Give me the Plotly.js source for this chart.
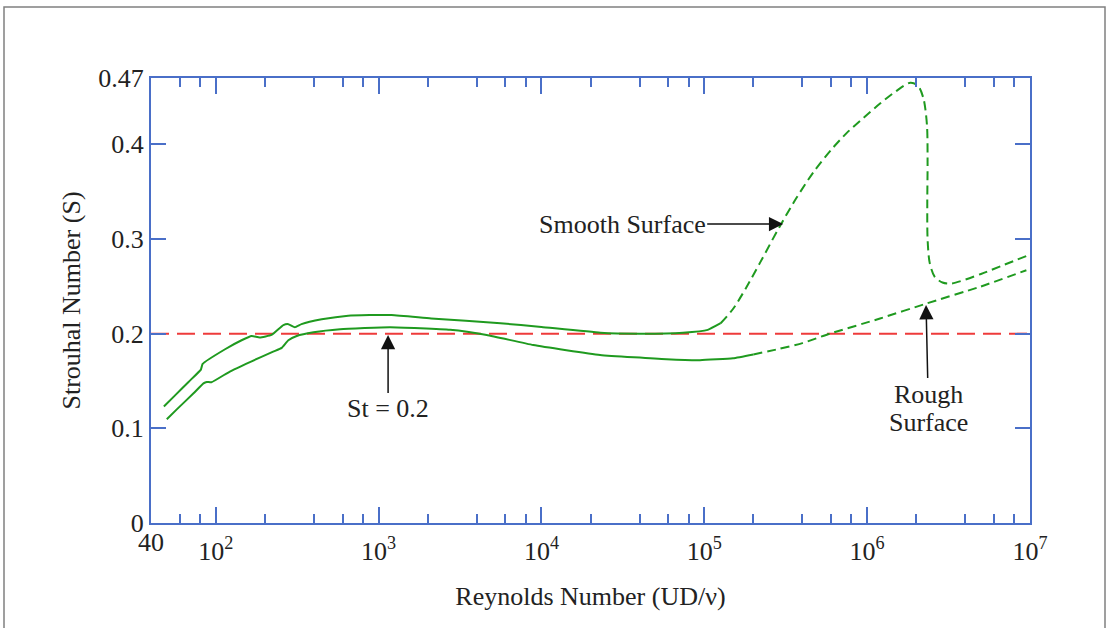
<!DOCTYPE html>
<html>
<head>
<meta charset="utf-8">
<script src="https://cdn.plot.ly/plotly-3.0.1.min.js"></script>
<style>
html,body{margin:0;padding:0;background:#fff;}
#chart{width:1109px;height:628px;}
</style>
</head>
<body>
<div id="chart"></div>
<script>
// Upper curve (solid part, low Re)
const reUpperSolid = [48, 56, 68, 81, 83, 114, 144, 166, 186, 220, 260, 279, 306, 336, 447, 650, 1200, 2100, 5600, 10000, 23000, 40000, 74000, 1.05e5, 1.26e5];
const sUpperSolid  = [0.123, 0.1345, 0.149, 0.162, 0.168, 0.1835, 0.193, 0.1975, 0.196, 0.1986, 0.209, 0.21, 0.2067, 0.21, 0.2151, 0.219, 0.2197, 0.216, 0.211, 0.207, 0.201, 0.2, 0.201, 0.204, 0.211];
// Smooth surface (dashed)
const reSmooth = [1.26e5, 1.5e5, 1.8e5, 2.2e5, 2.9e5, 3.7e5, 4.7e5, 6e5, 7.5e5, 9.5e5, 1.2e6, 1.5e6, 1.84e6, 2.05e6, 2.22e6, 2.33e6, 2.35e6, 2.34e6, 2.35e6, 2.42e6, 2.6e6, 2.9e6, 3.3e6, 5e6, 7e6, 9.5e6];
const sSmooth  = [0.211, 0.226, 0.248, 0.275, 0.313, 0.344, 0.371, 0.394, 0.412, 0.428, 0.443, 0.456, 0.465, 0.462, 0.448, 0.42, 0.38, 0.34, 0.30, 0.275, 0.26, 0.254, 0.253, 0.263, 0.273, 0.282];
// Lower curve (solid part)
const reLowerSolid = [50, 58, 73, 84, 88, 94, 122, 162, 225, 254, 279, 314, 398, 580, 1175, 2750, 4610, 8900, 22900, 58600, 94000, 1.5e5, 2e5];
const sLowerSolid  = [0.1095, 0.1205, 0.137, 0.1475, 0.149, 0.1486, 0.16, 0.17, 0.181, 0.185, 0.193, 0.1975, 0.2014, 0.2046, 0.2067, 0.204, 0.1986, 0.188, 0.1775, 0.173, 0.172, 0.174, 0.178];
// Rough surface (dashed)
const reRough = [2e5, 2.9e5, 4e5, 5.9e5, 1.2e6, 2.33e6, 4.95e6, 9.5e6];
const sRough  = [0.178, 0.184, 0.19, 0.2, 0.216, 0.232, 0.2496, 0.267];
// Reference line St = 0.2
const reRef = [40, 1e7];
const sRef = [0.2, 0.2];

const xTickVals = [100, 1e3, 1e4, 1e5, 1e6, 1e7];
const xTickText = ['10<sup>2</sup>', '10<sup>3</sup>', '10<sup>4</sup>', '10<sup>5</sup>', '10<sup>6</sup>', '10<sup>7</sup>'];
const xStartLabel = '40';
const xStart = 40;
const xMinorVals = [60, 80, 200, 400, 600, 800, 2e3, 4e3, 6e3, 8e3, 2e4, 4e4, 6e4, 8e4, 2e5, 4e5, 6e5, 8e5, 2e6, 4e6, 6e6, 8e6];
const yTickVals = [0, 0.1, 0.2, 0.3, 0.4, 0.47];
const yTickText = ['0', '0.1', '0.2', '0.3', '0.4', '0.47'];

const green = '#1f9a1f';
const red = '#ee3b3b';
const axisBlue = '#4a6fc8';
const serif = 'Liberation Serif, Times New Roman, serif';
const FS = 26;

const traces = [
  {x: reRef, y: sRef, mode: 'lines', line: {color: red, width: 2, dash: '18px,8px'}, hoverinfo: 'skip'},
  {x: reUpperSolid, y: sUpperSolid, mode: 'lines', line: {color: green, width: 2, shape: 'spline', smoothing: 0.4}},
  {x: reSmooth, y: sSmooth, mode: 'lines', line: {color: green, width: 2, dash: '9px,5px', shape: 'spline', smoothing: 0.8}},
  {x: reLowerSolid, y: sLowerSolid, mode: 'lines', line: {color: green, width: 2, shape: 'spline', smoothing: 0.4}},
  {x: reRough, y: sRough, mode: 'lines', line: {color: green, width: 2, dash: '9px,5px', shape: 'spline', smoothing: 0.6}}
];

const L = 151, T = 78, W = 879, H = 445;
function px2paperX(p){ return (p - L) / W; }
function py2paperY(p){ return (T + H - p) / H; }

const arrowStyle = {arrowhead: 2, arrowsize: 1.9, arrowwidth: 1.5, arrowcolor: '#111'};
const textFont = {family: serif, size: FS, color: '#222'};

const layout = {
  width: 1109, height: 628,
  margin: {l: L, r: 1109 - L - W, t: T, b: 628 - T - H},
  paper_bgcolor: '#fff', plot_bgcolor: '#fff',
  showlegend: false,
  font: {family: serif, color: '#222', size: FS},
  xaxis: {
    type: 'log', range: [Math.log10(40), 7],
    tickmode: 'array', tickvals: xTickVals, ticktext: xTickText,
    ticks: 'inside', ticklen: 16, tickwidth: 2, tickcolor: axisBlue,
    ticklabelstandoff: 4,
    minor: {tickmode: 'array', tickvals: xMinorVals, ticks: 'inside', ticklen: 9, tickwidth: 2, tickcolor: axisBlue, showgrid: false},
    showline: true, linecolor: axisBlue, linewidth: 2, mirror: 'allticks',
    showgrid: false, zeroline: false,
    tickfont: textFont,
    title: {text: 'Reynolds Number (UD/ν)', font: textFont, standoff: 22}
  },
  yaxis: {
    range: [0, 0.47],
    tickmode: 'array', tickvals: yTickVals, ticktext: yTickText,
    ticks: 'inside', ticklen: 15, tickwidth: 2, tickcolor: axisBlue,
    showline: true, linecolor: axisBlue, linewidth: 2, mirror: 'allticks',
    showgrid: false, zeroline: false,
    tickfont: textFont,
    title: {text: 'Strouhal Number (S)', font: textFont, standoff: 10}
  },
  annotations: [
    {x: Math.log10(xStart), y: 0, xref: 'x', yref: 'paper', text: xStartLabel, showarrow: false,
     xanchor: 'center', yanchor: 'top', yshift: -3, font: textFont},
    Object.assign({x: Math.log10(3.05e5), y: 0.3158, xref: 'x', yref: 'y', text: 'Smooth Surface',
     showarrow: true, axref: 'pixel', ayref: 'pixel', ax: -161, ay: 0, font: textFont}, arrowStyle),
    Object.assign({x: Math.log10(1143), y: 0.1986, xref: 'x', yref: 'y', text: 'St = 0.2',
     showarrow: true, ax: 0, ay: 74, font: textFont}, arrowStyle),
    Object.assign({x: Math.log10(2.3e6), y: 0.2302, xref: 'x', yref: 'y', text: 'Rough',
     showarrow: true, ax: 2, ay: 89, font: textFont}, arrowStyle),
    {x: Math.log10(2.3e6), y: 0.2302, xref: 'x', yref: 'y', text: 'Surface', showarrow: false,
     xanchor: 'center', yanchor: 'middle', xshift: 2, yshift: -117, font: textFont}
  ],
  shapes: [
    {type: 'rect', xref: 'paper', yref: 'paper',
     x0: px2paperX(4), x1: px2paperX(1105), y0: py2paperY(640), y1: py2paperY(7),
     line: {color: '#808080', width: 1.5}, fillcolor: 'rgba(0,0,0,0)', layer: 'below'}
  ]
};

Plotly.newPlot('chart', traces, layout, {staticPlot: true, displayModeBar: false});
</script>
</body>
</html>
